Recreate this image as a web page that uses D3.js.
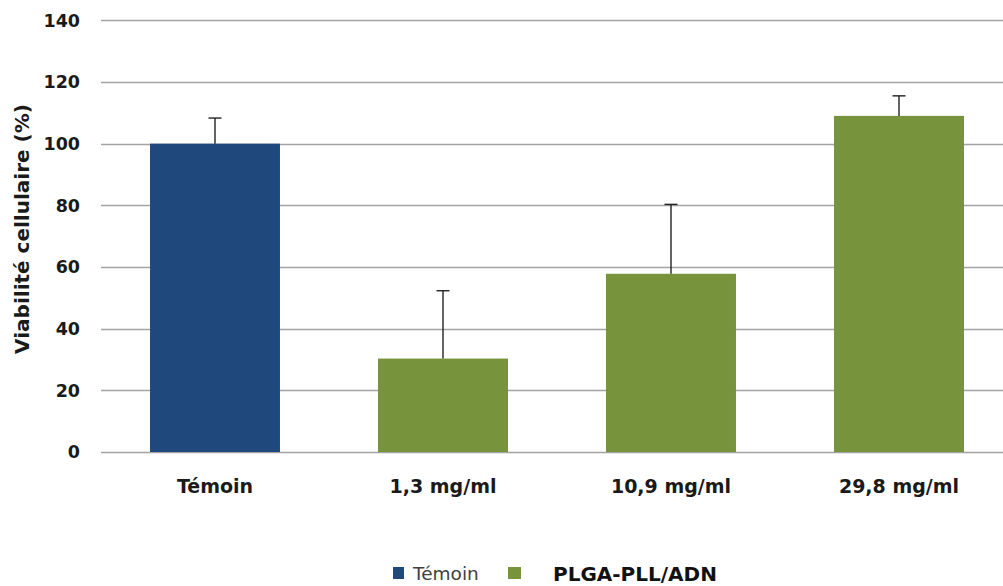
<!DOCTYPE html>
<meta charset="utf-8">
<style>
body { margin: 0; background: #fff; }
svg { display: block; }
.grid line { stroke: #a3a3a3; stroke-width: 1.3px; }
.tick-label { font: bold 17.5px "DejaVu Sans", sans-serif; fill: #1a1a1a; }
.cat-label { font: bold 19px "DejaVu Sans", sans-serif; fill: #1a1a1a; }
</style>
<svg width="1003" height="586"></svg>
<script src="https://d3js.org/d3.v7.min.js"></script>
<script>
var categories = ["Témoin", "1,3 mg/ml", "10,9 mg/ml", "29,8 mg/ml"];
var values = [100, 30.3, 57.8, 109.0];
var errors = [8.3, 22.0, 22.5, 6.5];
var groups = ["Témoin", "PLGA-PLL/ADN", "PLGA-PLL/ADN", "PLGA-PLL/ADN"];
var yTicks = [0, 20, 40, 60, 80, 100, 120, 140];
var legendItems = ["Témoin", "PLGA-PLL/ADN"];

var colorMap = {"Témoin": "#1f497d", "PLGA-PLL/ADN": "#77933c"};

var svg = d3.select("svg");

var x = d3.scaleBand()
    .domain(categories)
    .range([101, 1013])
    .paddingInner(0.43)
    .paddingOuter(0.215);

var y = d3.scaleLinear()
    .domain([0, 140])
    .range([452, 20.3]);

var data = categories.map(function(c, i) {
  return {cat: c, value: values[i], err: errors[i], group: groups[i]};
});

// gridlines
svg.append("g")
    .attr("class", "grid")
  .selectAll("line")
  .data(yTicks)
  .enter().append("line")
    .attr("x1", 101)
    .attr("x2", 1003)
    .attr("y1", function(d) { return Math.round(y(d)) + 0.5; })
    .attr("y2", function(d) { return Math.round(y(d)) + 0.5; });

// y tick labels
svg.append("g")
  .selectAll("text")
  .data(yTicks)
  .enter().append("text")
    .attr("class", "tick-label")
    .attr("x", 80)
    .attr("y", function(d) { return y(d); })
    .attr("dy", "0.36em")
    .attr("text-anchor", "end")
    .text(function(d) { return d; });

// bars
svg.append("g")
  .selectAll("rect")
  .data(data)
  .enter().append("rect")
    .attr("x", function(d) { return x(d.cat); })
    .attr("width", x.bandwidth())
    .attr("y", function(d) { return y(d.value); })
    .attr("height", function(d) { return y(0) - y(d.value); })
    .attr("fill", function(d) { return colorMap[d.group]; });

// error bars (upper only)
var eb = svg.append("g")
    .attr("stroke", "#222")
    .attr("stroke-width", 1.4)
  .selectAll("g")
  .data(data)
  .enter().append("g");

eb.append("line")
    .attr("x1", function(d) { return x(d.cat) + x.bandwidth() / 2; })
    .attr("x2", function(d) { return x(d.cat) + x.bandwidth() / 2; })
    .attr("y1", function(d) { return y(d.value); })
    .attr("y2", function(d) { return y(d.value + d.err); });

eb.append("line")
    .attr("x1", function(d) { return x(d.cat) + x.bandwidth() / 2 - 6.5; })
    .attr("x2", function(d) { return x(d.cat) + x.bandwidth() / 2 + 6.5; })
    .attr("y1", function(d) { return y(d.value + d.err); })
    .attr("y2", function(d) { return y(d.value + d.err); });

// category labels
svg.append("g")
  .selectAll("text")
  .data(categories)
  .enter().append("text")
    .attr("class", "cat-label")
    .attr("x", function(d) { return x(d) + x.bandwidth() / 2; })
    .attr("y", 493)
    .attr("text-anchor", "middle")
    .text(function(d) { return d; });

// y axis title
svg.append("text")
    .attr("transform", "translate(29,229) rotate(-90)")
    .attr("text-anchor", "middle")
    .style("font", "bold 20px 'DejaVu Sans', sans-serif")
    .attr("fill", "#1a1a1a")
    .text("Viabilité cellulaire (%)");

// legend
var legend = svg.append("g");
legend.append("rect")
    .attr("x", 393).attr("y", 567).attr("width", 11).attr("height", 12)
    .attr("fill", colorMap[legendItems[0]]);
legend.append("text")
    .attr("x", 413).attr("y", 580)
    .style("font", "18.5px 'DejaVu Sans', sans-serif")
    .attr("fill", "#404040")
    .text(legendItems[0]);
legend.append("rect")
    .attr("x", 508).attr("y", 567).attr("width", 13).attr("height", 12)
    .attr("fill", colorMap[legendItems[1]]);
legend.append("text")
    .attr("x", 553).attr("y", 581)
    .style("font", "bold 20px 'DejaVu Sans', sans-serif")
    .attr("fill", "#111")
    .text(legendItems[1]);
</script>
